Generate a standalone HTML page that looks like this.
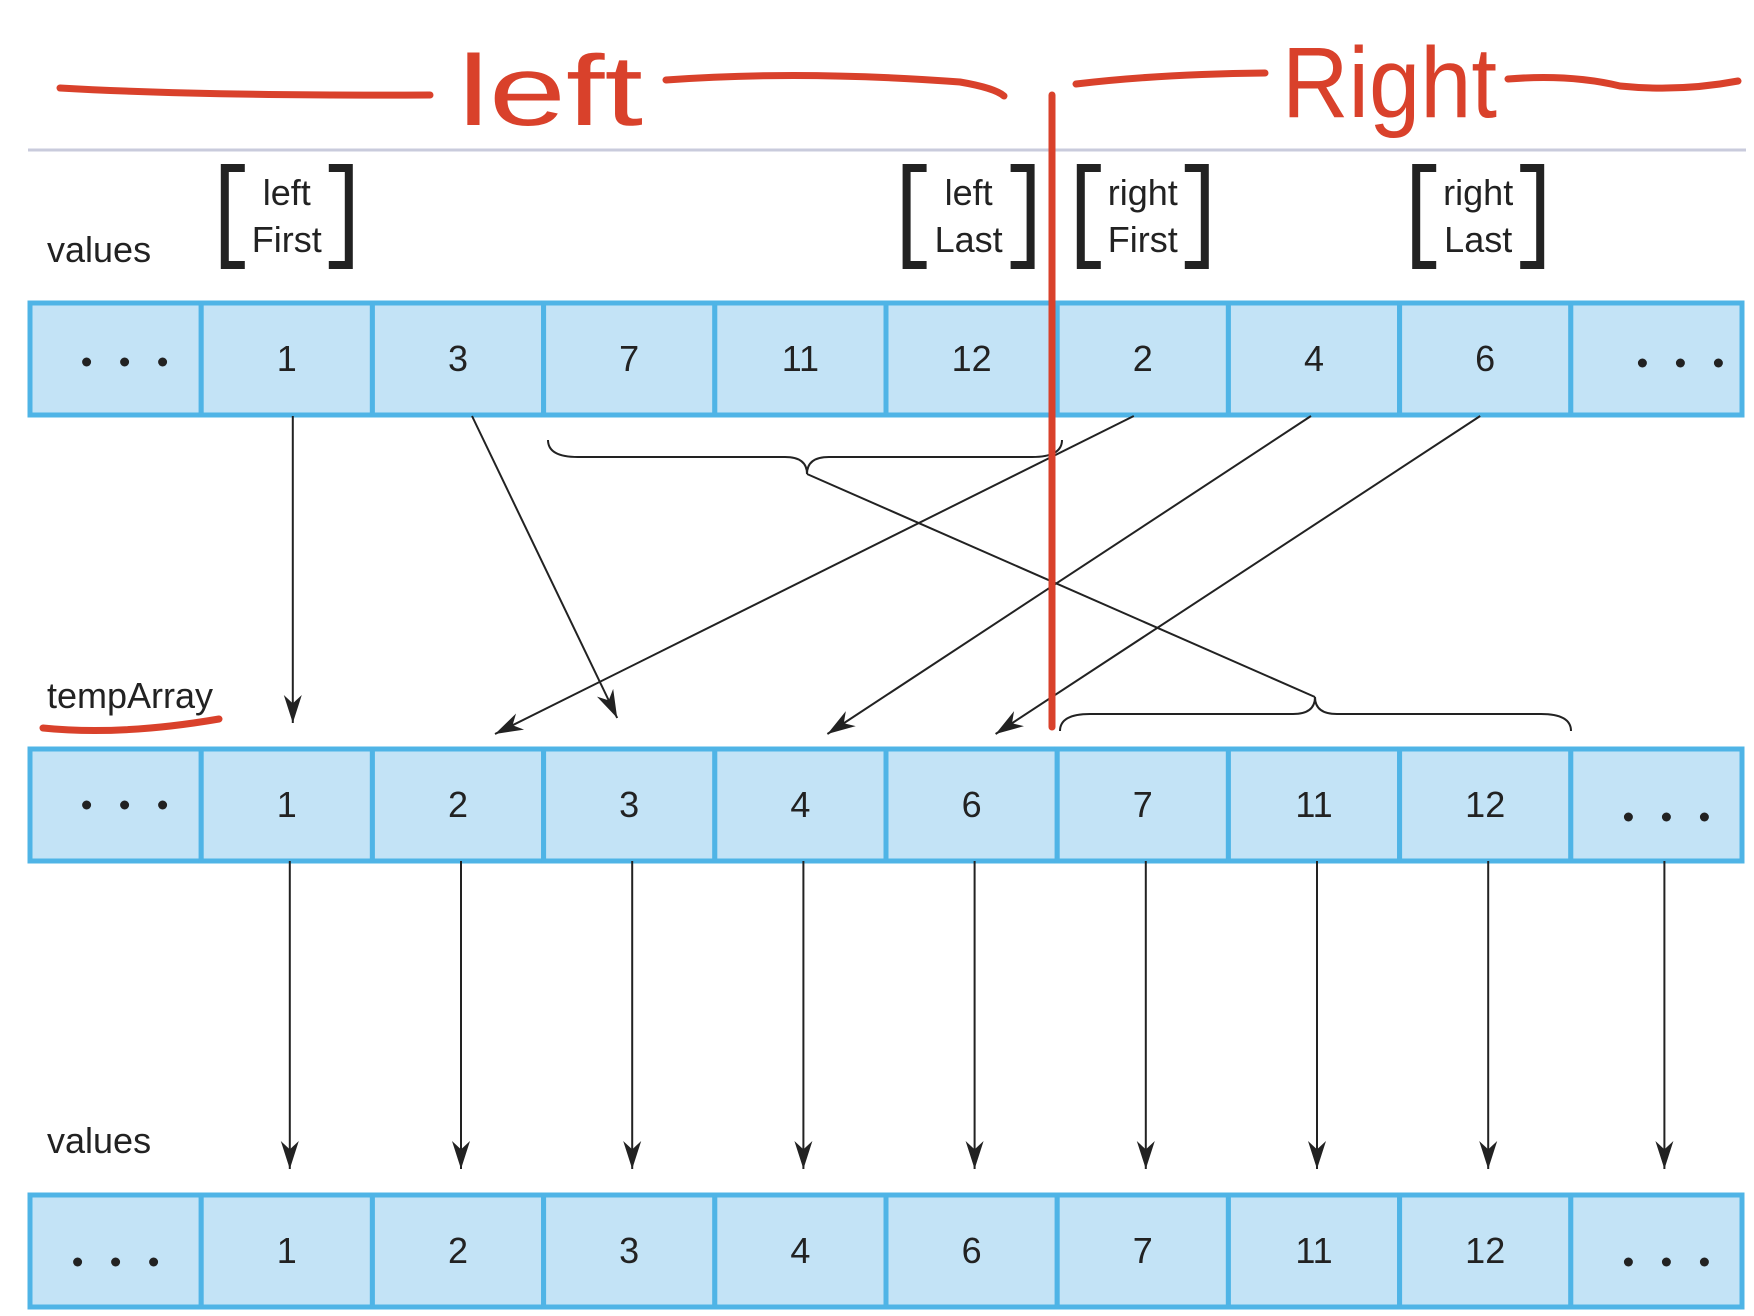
<!DOCTYPE html>
<html><head><meta charset="utf-8"><style>
html,body{margin:0;padding:0;background:#fff;width:1754px;height:1316px;overflow:hidden}
svg{display:block}
text{font-family:"Liberation Sans","DejaVu Sans",sans-serif;fill:#222}
</style></head><body>
<svg id="s" width="1754" height="1316" viewBox="0 0 1754 1316">
<line x1="28" y1="150" x2="1746" y2="150" stroke="#c9cbdc" stroke-width="3"/>
<text x="47" y="262" font-size="36">values</text>
<text x="47" y="708" font-size="36">tempArray</text>
<text x="47" y="1153" font-size="36">values</text>
<g id="cells"></g>
<g id="marks" stroke="#222" stroke-width="2" fill="none"></g>
<g id="heads" fill="#222"></g>
<g id="brackets"></g>
<g stroke="#d9412b" stroke-width="7" fill="none" stroke-linecap="round" stroke-linejoin="round">
<path d="M60 88 Q200 96 430 95"/>
<path d="M666 80 Q800 70 960 82 Q995 88 1004 96"/>
<path d="M1076 84 Q1160 74 1265 73"/>
<path d="M1508 79 Q1570 74 1620 86 Q1680 92 1738 81"/>
<path d="M1052 95 L1052 727"/>
<path d="M43 728 Q120 736 219 719"/>
</g>
<text x="458" y="125" font-size="100" textLength="185" lengthAdjust="spacingAndGlyphs" style="fill:#d9412b">left</text>
<text x="1282" y="117" font-size="100" textLength="215" lengthAdjust="spacingAndGlyphs" style="fill:#d9412b">Right</text>
</svg>
<script>
const rowValues1 = ["...", "1", "3", "7", "11", "12", "2", "4", "6", "..."];
const rowValues2 = ["...", "1", "2", "3", "4", "6", "7", "11", "12", "..."];
const rowValues3 = ["...", "1", "2", "3", "4", "6", "7", "11", "12", "..."];
const bracketLabels = [["left","First",1],["left","Last",5],["right","First",6],["right","Last",8]];
const moves = [[1,1],[2,3],[6,2],[7,4],[8,5]];
const NS="http://www.w3.org/2000/svg";
const x0=30, cw=171.2, rows=[303,749,1195], rh=112;
const cx=i=>x0+cw*(i+0.5);
function mk(tag,attrs,parent){const e=document.createElementNS(NS,tag);for(const k in attrs)e.setAttribute(k,attrs[k]);parent.appendChild(e);return e;}
const cells=document.getElementById('cells');
const dotPos={ '0-0':[-29,59],'0-9':[-14,60],'1-0':[-29,56],'1-9':[-28,68],'2-0':[-38,67],'2-9':[-28,67] };
[rowValues1,rowValues2,rowValues3].forEach((arr,r)=>{
  const y=rows[r];
  arr.forEach((v,i)=>{
    const rect=mk('rect',{x:x0+cw*i,y:y,width:cw,height:rh,fill:'#c3e3f6',stroke:'#4fb4e6','stroke-width':5},cells);
    
    
    if(v==='...'){
      const p=dotPos[r+'-'+i];
      const g=mk('g',{fill:'#222'},cells);
      
      
      for(let k=0;k<3;k++) mk('circle',{cx:cx(i)+p[0]+k*38,cy:y+p[1],r:4.5},g);
    } else {
      const t=mk('text',{x:cx(i),y:y+rh/2+12,'font-size':36,'text-anchor':'middle'},cells);
      t.textContent=v;
      
      
    }
  });
});
const marks=document.getElementById('marks'), heads=document.getElementById('heads');
function arrow(x1,y1,x2,y2,name){
  const l=mk('line',{x1,y1,x2,y2},marks);
  
  
  const a=Math.atan2(y2-y1,x2-x1),L=28,W=9;
  const bx=x2-L*Math.cos(a),by=y2-L*Math.sin(a);
  const mx=x2-L*0.7*Math.cos(a),my=y2-L*0.7*Math.sin(a);
  const p=mk('path',{d:`M${x2} ${y2} L${bx-W*Math.sin(a)} ${by+W*Math.cos(a)} L${mx} ${my} L${bx+W*Math.sin(a)} ${by-W*Math.cos(a)} Z`},heads);
  
  
}
const fromOff={1:6,2:14,6:-9,7:-3,8:-5};
const toOff={1:6,3:-12,2:37,4:27,5:24};
moves.forEach(([from,to])=>{
  const ty=to===1?723:to===3?718:734;
  arrow(cx(from)+fromOff[from],416,cx(to)+toOff[to],ty,'move-arrow-'+from+'-to-'+to);
});
rowValues2.forEach((v,i)=>{ if(i===0)return; arrow(cx(i)+(i===9?8:3),861,cx(i)+(i===9?8:3),1169,'copy-arrow-'+i); });
function brace(x1,x2,y,tipx,dir,name){
  const d=dir*34;
  const p=mk('path',{d:`M${x1} ${y} Q${x1} ${y+d*0.5} ${x1+30} ${y+d*0.5} L${tipx-22} ${y+d*0.5} Q${tipx} ${y+d*0.5} ${tipx} ${y+d} Q${tipx} ${y+d*0.5} ${tipx+22} ${y+d*0.5} L${x2-30} ${y+d*0.5} Q${x2} ${y+d*0.5} ${x2} ${y}`},marks);
  
  
}
brace(548,1062,440,807,1,'left-run-brace');
brace(1060,1571,731,1315,-1,'right-run-brace');
const cross=mk('line',{x1:807,y1:474,x2:1315,y2:697},marks);


const br=document.getElementById('brackets');
const brOff={1:0,5:-3,6:0,8:-7};
bracketLabels.forEach(([a,b,i])=>{
  const c=cx(i)+brOff[i];
  const g=mk('g',{},br);
  
  
  mk('path',{d:`M${c-42} 168 L${c-62} 168 L${c-62} 265 L${c-42} 265`,stroke:'#222','stroke-width':8,fill:'none'},g);
  mk('path',{d:`M${c+42} 168 L${c+62} 168 L${c+62} 265 L${c+42} 265`,stroke:'#222','stroke-width':8,fill:'none'},g);
  const t1=mk('text',{x:c,y:205,'font-size':36,'text-anchor':'middle'},g);t1.textContent=a;
  const t2=mk('text',{x:c,y:252,'font-size':36,'text-anchor':'middle'},g);t2.textContent=b;
});
</script>
</body></html>
